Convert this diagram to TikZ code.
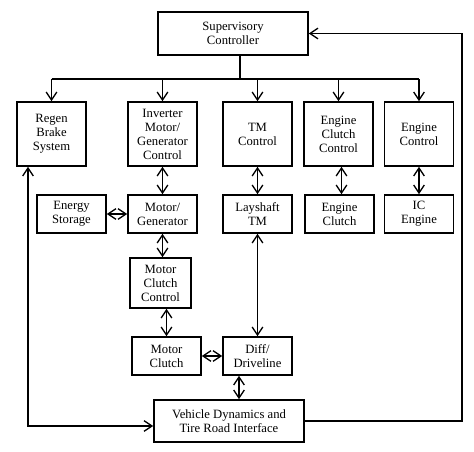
\documentclass[tikz,border=0pt]{standalone}
\usepackage{fontspec}
\setmainfont{Liberation Serif}
\usetikzlibrary{arrows.meta,calc}

\begin{document}
\begin{tikzpicture}[x=0.75pt,y=-0.75pt,
    blk/.style={draw,line width=1.2pt,align=center,inner sep=1pt,
      font=\fontsize{9.5}{10.5}\selectfont},
    tall/.style={blk,minimum width=51.75pt,minimum height=48pt},
    flat/.style={blk,minimum width=51.75pt,minimum height=28.5pt},
    wide/.style={blk,minimum width=112.5pt,minimum height=32pt},
    link/.style={line width=1pt,-{Straight Barb[length=6pt,width=8pt]}},
    both/.style={line width=1pt,{Straight Barb[length=6pt,width=8pt]}-{Straight Barb[length=6pt,width=8pt]}}]

  \useasboundingbox (0,0) rectangle (474,452);

  % top controller
  \node[wide] (sup) at (233,33.5) {Supervisory\\Controller};

  % controllers row                     x,y centre
  \node[tall] (regen) at (51.5,134)  {Regen\\Brake\\System};
  \node[tall] (inv)   at (162.5,134) {Inverter\\Motor/\\Generator\\Control};
  \node[tall] (tmc)   at (257.5,134) {TM\\Control};
  \node[tall] (ecc)   at (338.5,134) {Engine\\Clutch\\Control};
  \node[tall] (ec)    at (419,134)   {Engine\\Control};

  % hardware row
  \node[flat] (es)   at (71.5,214)  {Energy\\Storage};
  \node[flat] (mg)   at (162.5,214) {Motor/\\Generator};
  \node[flat] (lay)  at (257.5,214) {Layshaft\\TM};
  \node[flat] (eclu) at (339.5,214) {Engine\\Clutch};
  \node[flat] (ice)  at (419,214)   {IC\\Engine};

  % driveline
  \node[blk,minimum width=45.75pt,minimum height=37.5pt] (mcc) at (160.5,283) {Motor\\Clutch\\Control};
  \node[flat] (mcl)  at (166.5,356) {Motor\\Clutch};
  \node[flat] (diff) at (257.5,356) {Diff/\\Driveline};
  \node[wide,minimum height=31.5pt] (veh) at (229,421) {Vehicle Dynamics and\\Tire Road Interface};

  % helper points
  \coordinate (bus) at (240,79);
  \coordinate (rt) at (462,0);
  \coordinate (lt) at (28,0);
  \coordinate (dv) at ($(diff.south)+(-18.5,0)$);
  \coordinate (lb) at ($(veh.west)+(0,5)$);

  % command bus
  \draw[line width=1pt] (sup.south -| bus) -- (bus);
  \draw[line width=1pt] (bus -| regen.north) -- (bus -| ec.north);
  \foreach \n in {regen,inv,tmc,ecc,ec}
    \draw[link] (bus -| \n.north) -- (\n.north);

  % two way links
  \draw[both] (inv.south) -- (mg.north);
  \draw[both] (tmc.south) -- (lay.north);
  \draw[both] ($(ecc.south)+(3,0)$) -- ($(eclu.north)+(2,0)$);
  \draw[both] (ec.south) -- (ice.north);
  \draw[both] (es.east) -- (mg.west);
  \draw[both] (mg.south) -- (mg.south |- mcc.north);
  \draw[both] (mcl.north |- mcc.south) -- (mcl.north);
  \draw[both] (lay.south) -- (diff.north);
  \draw[both] (mcl.east) -- (diff.west);
  \draw[both] (dv) -- (dv |- veh.north);

  % feedback loops
  \draw[both] (regen.south -| lt) -- (lt |- lb) -- (lb);
  \draw[link] (veh.east) -- (veh.east -| rt) -- (rt |- sup.east) -- (sup.east);
\end{tikzpicture}
\end{document}
